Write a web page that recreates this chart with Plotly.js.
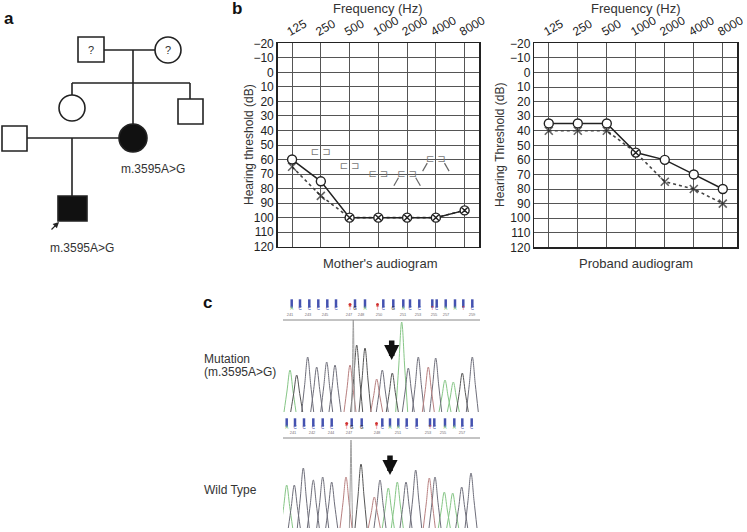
<!DOCTYPE html>
<html>
<head>
<meta charset="utf-8">
<script src="https://cdn.plot.ly/plotly-3.0.1.min.js"></script>
<style>html,body{margin:0;padding:0;background:#fff;}#chart{width:747px;height:532px;}</style>
</head>
<body>
<div id="chart"></div>
<script>
// ---------- DATA ----------
const freqs = ['125', '250', '500', '1000', '2000', '4000', '8000'];
const yTicks = [-20, -10, 0, 10, 20, 30, 40, 50, 60, 70, 80, 90, 100, 110, 120];

const motherRight = [60, 75, 100, 100, 100, 100, 95];
const motherLeft = [65, 85, 100, 100, 100, 100, 95];
const motherBone = [null, 55, 65, 70, 70, 60, null];
const motherBoneNR = [false, false, false, false, true, true, false];

const probandRight = [35, 35, 35, 55, 60, 70, 80];
const probandLeft = [40, 40, 40, 55, 75, 80, 90];

// chromatogram peaks (position, height, base)  'N' = narrow spike
const mutPeakPos = [290, 296.7, 307.7, 316.7, 326.7, 335, 350, 353.3, 356.7, 365, 376.7, 382.3, 392.3, 401.7, 408.3, 418.3, 428.3, 435.7, 445, 453.3, 462.3, 472.3];
const mutPeakHt = [42, 37, 55, 45, 50, 47, 47, 92, 67, 64, 33, 42, 39, 90, 44, 55, 45, 54, 32, 30, 39, 55];
const mutPeakBase = ['A', 'G', 'C', 'C', 'C', 'C', 'T', 'N', 'G', 'G', 'T', 'C', 'G', 'A', 'C', 'C', 'T', 'C', 'A', 'A', 'G', 'C'];

const wtPeakPos = [286.7, 294.3, 303.3, 313.3, 322.7, 331.7, 346, 351, 361, 374.3, 380, 388.3, 397.3, 406, 415.7, 429.3, 435, 444.3, 452.7, 461.7, 471];
const wtPeakHt = [43, 43, 60, 48, 51, 46, 51, 88, 64, 31, 48, 40, 46, 46, 58, 50, 51, 36, 35, 41, 55];
const wtPeakBase = ['A', 'C', 'C', 'C', 'C', 'C', 'T', 'N', 'G', 'T', 'C', 'A', 'A', 'C', 'C', 'T', 'C', 'A', 'A', 'C', 'C'];

// base calls
const mutCallPos = [291.7, 300, 309.3, 318.3, 327.3, 336, 350, 355, 365, 377.5, 383.3, 393.3, 403.3, 410, 419.3, 432.3, 436.7, 445.7, 455, 463.3, 472.3];
const mutCallBase = ['A', 'C', 'C', 'C', 'C', 'C', 'T', 'G', 'A', 'T', 'C', 'G', 'A', 'C', 'C', 'T', 'C', 'A', 'A', 'T', 'C'];
const mutCallQual = [1, 1, 1, 1, 1, 1, 0, 1, 1, 0, 1, 1, 1, 1, 1, 1, 1, 1, 1, 1, 1];
const mutNumPos = [290, 308, 325, 349, 361, 379, 403, 418, 434, 446, 472];
const mutNumText = ['241', '243', '245', '247', '248', '250', '251', '253', '255', '257', '259'];

const wtCallPos = [286.7, 295, 304, 313.3, 322.7, 331.7, 346.7, 351.7, 361.7, 376.5, 382.3, 390, 398.3, 406.7, 416.7, 430, 434.3, 445, 454.3, 462.3, 471.7];
const wtCallBase = ['A', 'C', 'C', 'C', 'C', 'C', 'T', 'G', 'G', 'T', 'C', 'A', 'A', 'C', 'C', 'T', 'C', 'A', 'A', 'C', 'C'];
const wtCallQual = [1, 1, 1, 1, 1, 1, 0, 1, 1, 0, 1, 1, 1, 1, 1, 1, 1, 1, 1, 1, 1];
const wtNumPos = [293, 312, 331, 349, 377, 398, 428, 443, 462];
const wtNumText = ['241', '242', '244', '247', '248', '251', '253', '255', '257'];

// ---------- HELPERS ----------
const W = 747, H = 532;
const px = x => x / W;
const py = y => 1 - y / H;
const FONT = 'Liberation Sans, Arial, sans-serif';
const idx = freqs.map((f, i) => i);
const baseColor = {A: '#6dbb6d', C: '#4a56b0', G: '#222222', T: '#d04040', N: '#999999'};
const peakColor = {A: '#86c686', C: '#6e6e7a', G: '#555555', T: '#b88080', N: '#a0a0a0'};

function audiogramTraces(right, left, bone, boneNR, xa, ya) {
  const same = right.map((v, i) => v === left[i]);
  const tr = [];
  tr.push({type: 'scatter', mode: 'lines+markers', x: idx, y: left, xaxis: xa, yaxis: ya,
    line: {color: '#444', width: 1.6, dash: 'dot'},
    marker: {symbol: 'x-thin-open', size: same.map(s => s ? 0 : 8), color: '#222', line: {color: '#222', width: 1.6}},
    hoverinfo: 'skip', showlegend: false});
  tr.push({type: 'scatter', mode: 'lines+markers', x: idx, y: right, xaxis: xa, yaxis: ya,
    line: {color: '#222', width: 1.5},
    marker: {symbol: same.map(s => s ? 'circle-x' : 'circle'), size: 9, color: '#fff', line: {color: '#222', width: 1.4}},
    hoverinfo: 'skip', showlegend: false});
  if (bone) {
    const bx = [], by = [];
    bone.forEach((v, i) => { if (v !== null) { bx.push(i); by.push(v); } });
    tr.push({type: 'scatter', mode: 'text', x: bx.map(v => v - 0.2), y: by, text: bx.map(() => '⊏'),
      textfont: {size: 10, color: '#777', family: 'DejaVu Sans'}, xaxis: xa, yaxis: ya, hoverinfo: 'skip', showlegend: false});
    tr.push({type: 'scatter', mode: 'text', x: bx.map(v => v + 0.2), y: by, text: bx.map(() => '⊐'),
      textfont: {size: 10, color: '#777', family: 'DejaVu Sans'}, xaxis: xa, yaxis: ya, hoverinfo: 'skip', showlegend: false});
    const nx = [], ny = [];
    bone.forEach((v, i) => {
      if (v !== null && boneNR[i]) {
        nx.push(i - 0.3, i - 0.46, null, i + 0.3, i + 0.46, null);
        ny.push(v + 2.5, v + 8, null, v + 2.5, v + 8, null);
      }
    });
    tr.push({type: 'scatter', mode: 'lines', x: nx, y: ny, line: {color: '#666', width: 1.2},
      xaxis: xa, yaxis: ya, hoverinfo: 'skip', showlegend: false});
  }
  return tr;
}

function peakTraces(pos, ht, bases, xa, ya) {
  const groups = {};
  pos.forEach((p, i) => {
    const b = bases[i];
    if (!groups[b]) groups[b] = {x: [], y: []};
    const w = b === 'N' ? 1.6 : 6;
    const h = ht[i];
    groups[b].x.push(p - w, p - w * 0.5, p, p + w * 0.5, p + w, null);
    groups[b].y.push(0, h * 0.5, h, h * 0.5, 0, null);
  });
  return Object.keys(groups).map(b => ({type: 'scatter', mode: 'lines', x: groups[b].x, y: groups[b].y,
    line: {shape: 'spline', smoothing: 1, color: peakColor[b], width: 1}, xaxis: xa, yaxis: ya,
    hoverinfo: 'skip', showlegend: false}));
}

function callTraces(pos, bases, qual, numPos, numText, yBar, yLet, yNum, xa, ya) {
  const hi = pos.filter((p, i) => qual[i]);
  const lo = pos.filter((p, i) => !qual[i]);
  return [
    {type: 'scatter', mode: 'markers', x: hi, y: hi.map(() => yBar), xaxis: xa, yaxis: ya,
      marker: {symbol: 'line-ns', size: 6, line: {color: '#4452b0', width: 2.5}}, hoverinfo: 'skip', showlegend: false},
    {type: 'scatter', mode: 'markers', x: lo, y: lo.map(() => yBar - 1), xaxis: xa, yaxis: ya,
      marker: {symbol: 'circle', size: 3, color: '#d03030'}, hoverinfo: 'skip', showlegend: false},
    {type: 'scatter', mode: 'text', x: pos, y: pos.map(() => yLet), text: bases, xaxis: xa, yaxis: ya,
      textfont: {size: 4.5, color: bases.map(b => baseColor[b]), family: FONT}, hoverinfo: 'skip', showlegend: false},
    {type: 'scatter', mode: 'text', x: numPos, y: numPos.map(() => yNum), text: numText, xaxis: xa, yaxis: ya,
      textfont: {size: 4, color: '#777', family: FONT}, hoverinfo: 'skip', showlegend: false}
  ];
}

// ---------- TRACES ----------
let data = [];
data = data.concat(audiogramTraces(motherRight, motherLeft, motherBone, motherBoneNR, 'x', 'y'));
data = data.concat(audiogramTraces(probandRight, probandLeft, null, null, 'x2', 'y2'));
data = data.concat(peakTraces(mutPeakPos, mutPeakHt, mutPeakBase, 'x4', 'y4'));
data = data.concat(peakTraces(wtPeakPos, wtPeakHt, wtPeakBase, 'x5', 'y5'));
data = data.concat(callTraces(mutCallPos, mutCallBase, mutCallQual, mutNumPos, mutNumText, 108.5, 103.5, 97, 'x4', 'y4'));
data = data.concat(callTraces(wtCallPos, wtCallBase, wtCallQual, wtNumPos, wtNumText, 105.5, 100.5, 95, 'x5', 'y5'));
data.push({type: 'scatter', mode: 'markers', x: [0], y: [0], xaxis: 'x3', yaxis: 'y3', marker: {size: 0, opacity: 0}, hoverinfo: 'skip', showlegend: false});

// ---------- AXES ----------
function audX(d0, d1, anchor) {
  return {domain: [px(d0), px(d1)], anchor: anchor, side: 'top', range: [-0.5, 6.5], tickvals: idx, ticktext: freqs,
    tickangle: -30, ticklabeloverflow: 'allow', ticklabelshift: -5, showgrid: true, gridcolor: '#555', gridwidth: 1,
    zeroline: false, showline: true, mirror: true, linecolor: '#222', linewidth: 1.5, ticks: '',
    tickfont: {size: 12, color: '#222', family: FONT}, fixedrange: true};
}
function audY(t0, t1, anchor) {
  return {domain: [py(t1), py(t0)], anchor: anchor, range: [120, -20], tickvals: yTicks, showgrid: true,
    gridcolor: '#555', gridwidth: 1, zeroline: false, showline: true, mirror: true, linecolor: '#222', linewidth: 1.5,
    ticks: '', tickfont: {size: 12, color: '#222', family: FONT}, fixedrange: true};
}
const hidden = {showgrid: false, zeroline: false, showline: false, showticklabels: false, ticks: '', fixedrange: true};

const shapes = [];
const annotations = [];
function ped(type, x0, y0, x1, y1, fill) {
  shapes.push({type: type, xref: 'x3', yref: 'y3', x0: x0, y0: y0, x1: x1, y1: y1,
    line: {color: '#222', width: 1.6}, fillcolor: fill || 'rgba(0,0,0,0)', layer: 'above'});
}
ped('line', 104, 50, 155, 50);
ped('line', 133, 50, 133, 124);
ped('line', 72, 83, 190, 83);
ped('line', 72, 83, 72, 95);
ped('line', 190, 83, 190, 99);
ped('line', 27, 138, 119, 138);
ped('line', 72, 138, 72, 196);
ped('rect', 78, 37, 104, 62, '#fff');
ped('circle', 155, 37, 181, 63, '#fff');
ped('circle', 59, 95, 85, 121, '#fff');
ped('rect', 178, 99, 203, 124, '#fff');
ped('circle', 119, 124, 147, 152, '#111');
ped('rect', 2, 126, 27, 151, '#fff');
ped('rect', 58, 196, 87, 221, '#111');

function txt(text, x, y, size, opts) {
  annotations.push(Object.assign({text: text, xref: 'paper', yref: 'paper', x: px(x), y: py(y), showarrow: false,
    xanchor: 'center', yanchor: 'middle', font: {size: size, color: '#333', family: FONT}}, opts || {}));
}
txt('?', 91, 50, 11);
txt('?', 168, 50, 11);
txt('m.3595A&gt;G', 153, 169, 12);
txt('m.3595A&gt;G', 82, 248, 12);
annotations.push({xref: 'x3', yref: 'y3', x: 59, y: 222, ax: -9, ay: 9, showarrow: true,
  arrowhead: 2, arrowsize: 1, arrowwidth: 1.2, arrowcolor: '#222', text: ''});

txt('<b>a</b>', 9, 18, 17, {font: {size: 17, color: '#111', family: FONT}});
txt('<b>b</b>', 237, 9, 17, {font: {size: 17, color: '#111', family: FONT}});
txt('<b>c</b>', 207, 302, 17, {font: {size: 17, color: '#111', family: FONT}});

txt('Frequency (Hz)', 378, 9, 13);
txt('Frequency (Hz)', 636, 9, 13);
txt("Mother's audiogram", 380, 263, 13);
txt('Proband audiogram', 636, 263, 13);
txt('Hearing threshold (dB)', 249, 145, 12, {textangle: -90});
txt('Hearing Threshold (dB)', 500, 145, 12, {textangle: -90});

txt('Mutation', 202, 359, 12, {xanchor: 'left'});
txt('(m.3595A&gt;G)', 202, 372, 12, {xanchor: 'left'});
txt('Wild Type', 202, 490, 12, {xanchor: 'left'});

shapes.push({type: 'line', xref: 'x4', yref: 'y4', x0: 283, x1: 480, y0: 92, y1: 92, line: {color: '#888', width: 1}});
shapes.push({type: 'line', xref: 'x5', yref: 'y5', x0: 283, x1: 480, y0: 90, y1: 90, line: {color: '#888', width: 1}});

annotations.push({xref: 'x4', yref: 'y4', x: 391.7, y: 52, ax: 0, ay: -21, showarrow: true, arrowhead: 2,
  arrowsize: 0.55, arrowwidth: 5.5, arrowcolor: '#111', text: ''});
annotations.push({xref: 'x5', yref: 'y5', x: 390, y: 53, ax: 0, ay: -21, showarrow: true, arrowhead: 2,
  arrowsize: 0.55, arrowwidth: 5.5, arrowcolor: '#111', text: ''});

const layout = {
  width: W, height: H, margin: {l: 0, r: 0, t: 0, b: 0}, paper_bgcolor: '#fff', plot_bgcolor: 'rgba(0,0,0,0)',
  showlegend: false, font: {family: FONT, color: '#222'},
  xaxis: audX(277.7, 479, 'y'),
  yaxis: audY(43.3, 246.7, 'x'),
  xaxis2: audX(534.3, 737.3, 'y2'),
  yaxis2: audY(43.3, 247.3, 'x2'),
  xaxis3: Object.assign({domain: [0, px(209)], anchor: 'y3', range: [0, 209]}, hidden),
  yaxis3: Object.assign({domain: [py(266), 1], anchor: 'x3', range: [266, 0]}, hidden),
  xaxis4: Object.assign({domain: [px(283), px(480)], anchor: 'y4', range: [283, 480]}, hidden),
  yaxis4: Object.assign({domain: [py(412), py(298)], anchor: 'x4', range: [0, 114]}, hidden),
  xaxis5: Object.assign({domain: [px(283), px(480)], anchor: 'y5', range: [283, 480]}, hidden),
  yaxis5: Object.assign({domain: [py(528), py(410)], anchor: 'x5', range: [0, 118]}, hidden),
  shapes: shapes,
  annotations: annotations
};

Plotly.newPlot('chart', data, layout, {staticPlot: true, displayModeBar: false});
</script>
</body>
</html>
